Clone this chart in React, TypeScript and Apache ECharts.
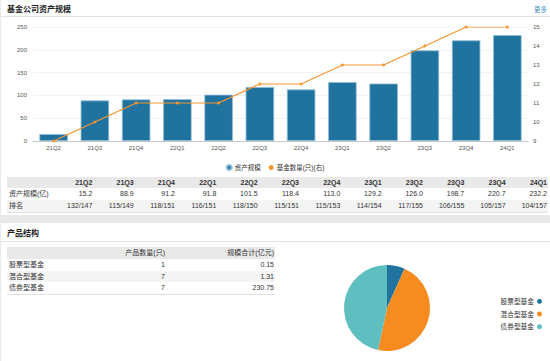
import React, { useEffect, useRef } from "react";
import * as echarts from "echarts";

const quarters = ["21Q2", "21Q3", "21Q4", "22Q1", "22Q2", "22Q3", "22Q4", "23Q1", "23Q2", "23Q3", "23Q4", "24Q1"];
const assetScale = [15.2, 88.9, 91.2, 91.8, 101.5, 118.4, 113.0, 129.2, 126.0, 198.7, 220.7, 232.2];
const fundCount = [9, 10, 11, 11, 11, 12, 12, 13, 13, 14, 15, 15];
const ranking = ["132/147", "115/149", "118/151", "116/151", "118/150", "115/151", "115/153", "114/154", "117/155", "106/155", "105/157", "104/157"];

const productTypes = ["股票型基金", "混合型基金", "债券型基金"];
const productCounts = [1, 7, 7];
const productScales = ["0.15", "1.31", "230.75"];

const BLUE = "#21739f";
const ORANGE = "#f68b1f";
const TEAL = "#5fbfc0";
const FONT = "'Liberation Sans', 'Noto Sans CJK SC', sans-serif";

export default function App() {
  const barRef = useRef<HTMLDivElement>(null);
  const pieRef = useRef<HTMLDivElement>(null);

  useEffect(() => {
    document.body.style.margin = "0";
    const bar = echarts.init(barRef.current!, undefined, { renderer: "svg" });
    bar.setOption({
      animation: false,
      textStyle: { fontFamily: FONT },
      grid: { left: 33, right: 22, top: 27, bottom: 34 },
      legend: {
        top: 159,
        left: "center",
        itemWidth: 5,
        itemHeight: 5,
        itemGap: 8,
        icon: "circle",
        textStyle: { fontSize: 6.5, color: "#333", padding: [0, 0, 0, -2] },
        data: ["资产规模", "基金数量(只)(右)"],
      },
      xAxis: {
        type: "category",
        data: quarters,
        axisLine: { lineStyle: { color: "#c8c8c8" } },
        axisTick: { show: false },
        axisLabel: { fontSize: 6, color: "#555", margin: 4 },
      },
      yAxis: [
        {
          type: "value",
          min: 0,
          max: 250,
          interval: 50,
          axisLine: { show: false },
          axisTick: { show: false },
          axisLabel: { fontSize: 6, color: "#555", margin: 6 },
          splitLine: { lineStyle: { color: "#f2f2f2" } },
        },
        {
          type: "value",
          min: 9,
          max: 15,
          interval: 1,
          position: "right",
          axisLine: { show: false },
          axisTick: { show: false },
          axisLabel: { fontSize: 6, color: "#555", margin: 5 },
          splitLine: { show: false },
        },
      ],
      series: [
        {
          name: "资产规模",
          type: "bar",
          data: assetScale,
          barWidth: "69%",
          itemStyle: { color: BLUE, borderColor: "#8dbcd6", borderWidth: 0.8 },
        },
        {
          name: "基金数量(只)(右)",
          type: "line",
          yAxisIndex: 1,
          data: fundCount,
          symbol: "circle",
          symbolSize: 3,
          lineStyle: { color: "#f7952f", width: 1.2 },
          itemStyle: { color: "#f7952f" },
        },
      ],
    });

    const pie = echarts.init(pieRef.current!, undefined, { renderer: "svg" });
    pie.setOption({
      animation: false,
      textStyle: { fontFamily: FONT },
      legend: {
        orient: "vertical",
        right: 3,
        top: 70,
        align: "right",
        icon: "circle",
        itemWidth: 5,
        itemHeight: 5,
        itemGap: 6,
        textStyle: { fontSize: 6.7, color: "#333", padding: [0, -2, 0, 0] },
        data: productTypes,
      },
      series: [
        {
          type: "pie",
          center: [112, 85],
          radius: 43,
          startAngle: 90,
          label: { show: false },
          labelLine: { show: false },
          data: productTypes.map((n, i) => ({
            name: n,
            value: productCounts[i],
            itemStyle: { color: [BLUE, ORANGE, TEAL][i] },
          })),
        },
      ],
    });

    return () => {
      bar.dispose();
      pie.dispose();
    };
  }, []);

  const cell: React.CSSProperties = { padding: "0 1px 0 0", textAlign: "right", whiteSpace: "nowrap", overflow: "hidden" };
  const lcell: React.CSSProperties = { padding: "0 0 0 2px", textAlign: "left", whiteSpace: "nowrap", overflow: "hidden" };

  return (
    <div style={{ position: "relative", width: 550, height: 361, background: "#e9e9e9", fontFamily: FONT, color: "#333", overflow: "hidden" }}>
      {/* top card */}
      <div style={{ position: "absolute", left: 1, top: 0, width: 549, height: 215, background: "#fff" }}>
        <div style={{ position: "absolute", left: 6, top: 3, fontSize: 8, fontWeight: "bold", lineHeight: "12px", color: "#222", fontFamily: "'Noto Sans CJK SC', sans-serif" }}>基金公司资产规模</div>
        <div style={{ position: "absolute", left: 533, top: 4, fontSize: 6.5, lineHeight: "10px", color: "#3d8fc1", fontFamily: "'Noto Sans CJK SC', sans-serif" }}>更多</div>
        <div style={{ position: "absolute", left: 0, top: 16, width: 549, height: 1, background: "#e2e2e2" }} />
      </div>
      <div ref={barRef} style={{ position: "absolute", left: 0, top: 0, width: 550, height: 175 }} />
      <table style={{ position: "absolute", left: 7, top: 177, width: 541, borderCollapse: "collapse", tableLayout: "fixed", fontSize: 7, lineHeight: "10px", borderBottom: "1px solid #e0e0e0" }}>
        <colgroup>
          <col style={{ width: 45 }} />
          {quarters.map((q) => (
            <col key={q} />
          ))}
        </colgroup>
        <tbody>
          <tr style={{ background: "#e9e9e9", height: 11, fontWeight: "bold" }}>
            <td style={lcell}></td>
            {quarters.map((q) => (
              <td key={q} style={cell}>{q}</td>
            ))}
          </tr>
          <tr style={{ height: 12 }}>
            <td style={lcell}>资产规模(亿)</td>
            {assetScale.map((v, i) => (
              <td key={i} style={cell}>{v.toFixed(1)}</td>
            ))}
          </tr>
          <tr style={{ height: 12, background: "#f4f4f4" }}>
            <td style={lcell}>排名</td>
            {ranking.map((v, i) => (
              <td key={i} style={cell}>{v}</td>
            ))}
          </tr>
        </tbody>
      </table>

      {/* bottom card */}
      <div style={{ position: "absolute", left: 1, top: 223, width: 549, height: 138, background: "#fff" }}>
        <div style={{ position: "absolute", left: 6, top: 4, fontSize: 8, fontWeight: "bold", lineHeight: "12px", color: "#222", fontFamily: "'Noto Sans CJK SC', sans-serif" }}>产品结构</div>
        <div style={{ position: "absolute", left: 0, top: 18, width: 549, height: 1, background: "#e2e2e2" }} />
      </div>
      <table style={{ position: "absolute", left: 7, top: 247, width: 268, borderCollapse: "collapse", tableLayout: "fixed", fontSize: 7, lineHeight: "10px", borderBottom: "1px solid #e0e0e0" }}>
        <colgroup>
          <col style={{ width: 50 }} />
          <col style={{ width: 109 }} />
          <col style={{ width: 109 }} />
        </colgroup>
        <tbody>
          <tr style={{ background: "#e9e9e9", height: 12 }}>
            <td style={lcell}></td>
            <td style={cell}>产品数量(只)</td>
            <td style={cell}>规模合计(亿元)</td>
          </tr>
          {productTypes.map((n, i) => (
            <tr key={n} style={{ height: 11.7, background: i === 1 ? "#f4f4f4" : "#fff" }}>
              <td style={lcell}>{n}</td>
              <td style={cell}>{productCounts[i]}</td>
              <td style={cell}>{productScales[i]}</td>
            </tr>
          ))}
        </tbody>
      </table>
      <div ref={pieRef} style={{ position: "absolute", left: 275, top: 223, width: 275, height: 138 }} />
    </div>
  );
}
